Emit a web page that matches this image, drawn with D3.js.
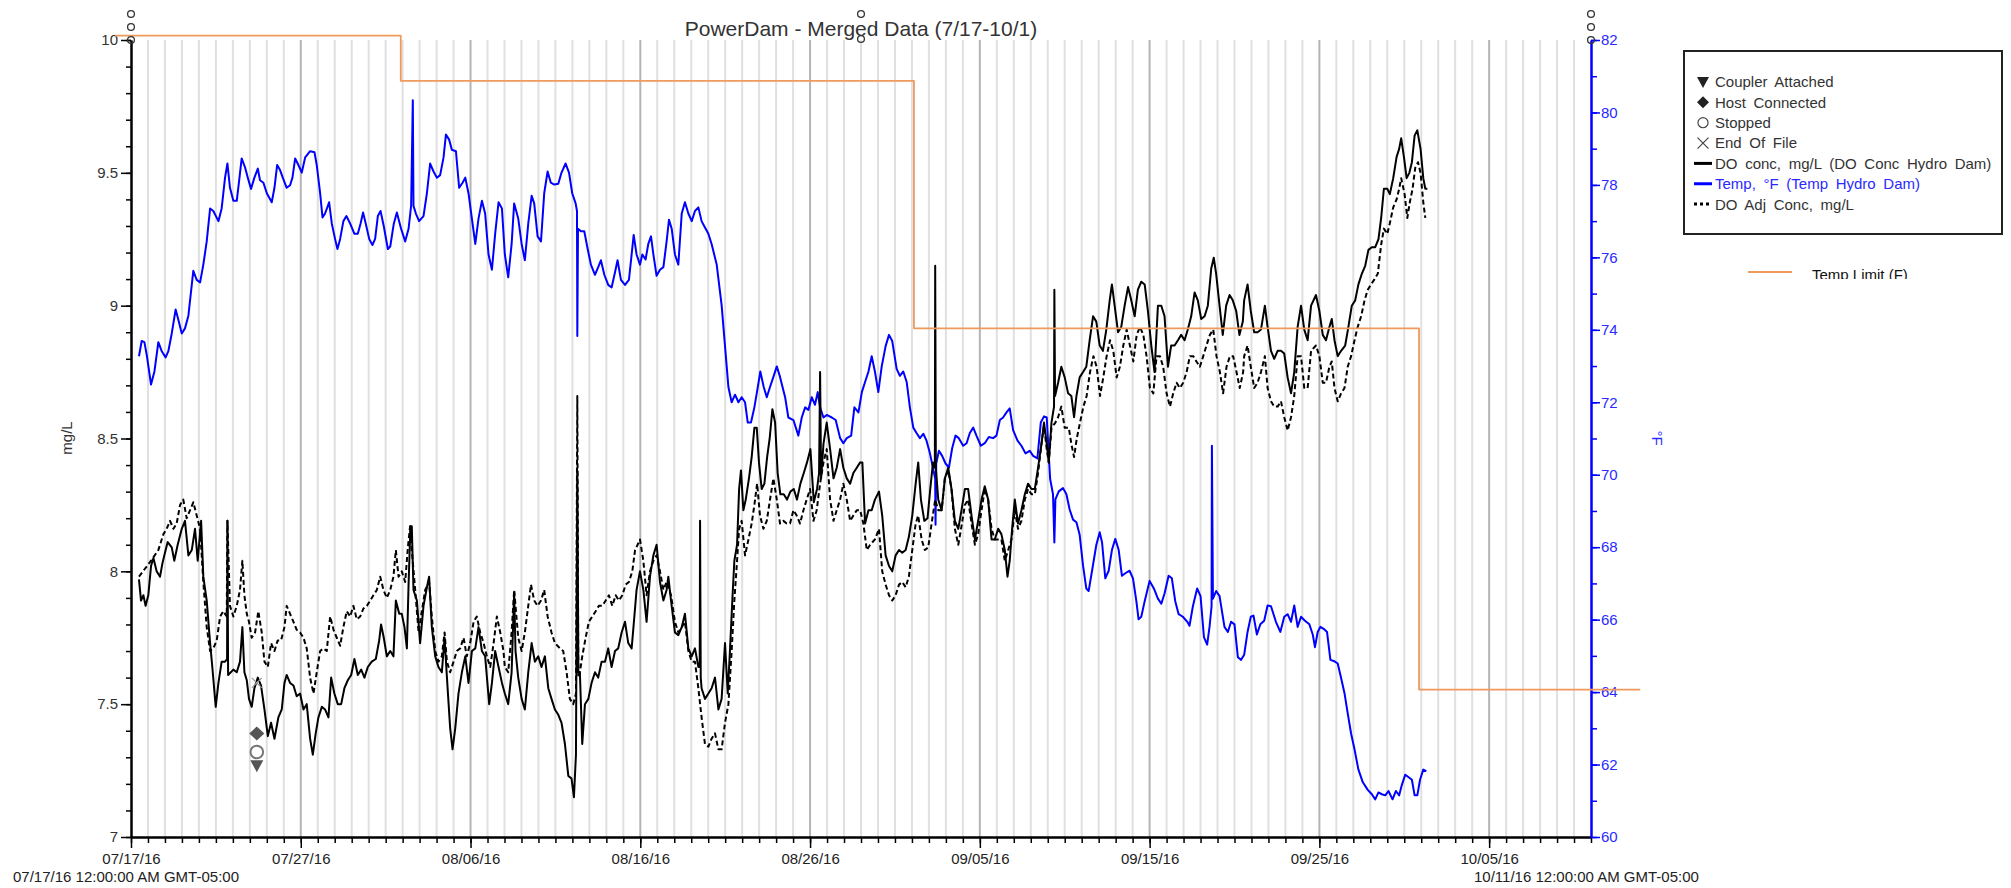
<!DOCTYPE html>
<html>
<head>
<meta charset="utf-8">
<title>PowerDam - Merged Data (7/17-10/1)</title>
<style>
body { margin: 0; background: #fff; }
svg text { font-family: "Liberation Sans", Arial, sans-serif; }
.line { fill: none; stroke-linejoin: round; }
</style>
</head>
<body>
<svg width="2011" height="888"></svg>
<script src="https://cdn.jsdelivr.net/npm/d3@7"></script>
<script>
// days are counted from 07/17/16 00:00
const startDate = new Date(2016, 6, 17);
const endDate = new Date(2016, 9, 11);

const majorDays = [0, 10, 20, 30, 40, 50, 60, 70, 80];
const doMajorTicks = [7, 7.5, 8, 8.5, 9, 9.5, 10];
const tempMajorTicks = [60, 62, 64, 66, 68, 70, 72, 74, 76, 78, 80, 82];

const legendLabels = ["Coupler Attached", "Host Connected", "Stopped", "End Of File",
  "DO conc, mg/L (DO Conc Hydro Dam)", "Temp, °F (Temp Hydro Dam)", "DO Adj Conc, mg/L"];

// Temp Limit (F), step line
const limitSeries = [[-0.94, 82.12], [15.89, 80.87], [46.12, 74.04], [75.87, 64.07], [88.9, 64.07]];

// logger events, [day, mg/L]
const eventMarks = [
  {label: "End Of File", day: 7.41, value: 7.58},
  {label: "Host Connected", day: 7.41, value: 7.39},
  {label: "Coupler Attached", day: 7.41, value: 7.27},
  {label: "Stopped", day: 7.41, value: 7.32}
];

const tempSeries = [
[0.47,73.27],[0.63,73.69],[0.79,73.66],[0.94,73.27],[1.18,72.49],[1.38,72.85],[1.61,73.66],[1.81,73.41],[2.04,73.24],[2.20,73.41],[2.40,73.90],[2.63,74.56],[2.79,74.28],[2.99,73.90],[3.18,74.04],[3.38,74.39],[3.67,75.63],[3.87,75.38],[4.07,75.31],[4.26,75.80],[4.46,76.44],[4.66,77.35],[4.85,77.28],[5.15,77.00],[5.34,77.35],[5.54,78.20],[5.68,78.59],[5.83,77.92],[6.03,77.56],[6.23,77.56],[6.39,78.20],[6.52,78.73],[6.72,78.48],[6.88,78.20],[7.07,77.89],[7.27,78.20],[7.47,78.45],[7.60,78.13],[7.80,78.06],[8.00,77.77],[8.29,77.52],[8.45,77.92],[8.61,78.55],[8.78,78.41],[8.94,78.20],[9.17,77.92],[9.37,77.99],[9.51,78.20],[9.67,78.73],[9.86,78.55],[10.06,78.34],[10.26,78.76],[10.55,78.93],[10.81,78.90],[10.94,78.55],[11.14,77.77],[11.28,77.10],[11.43,77.21],[11.67,77.52],[11.83,76.93],[12.02,76.51],[12.16,76.23],[12.32,76.51],[12.51,77.00],[12.69,77.14],[12.91,76.93],[13.16,76.65],[13.36,76.65],[13.52,76.93],[13.67,77.24],[13.83,76.93],[14.03,76.51],[14.22,76.34],[14.38,76.51],[14.54,77.14],[14.70,77.28],[14.89,76.86],[15.13,76.23],[15.27,76.30],[15.48,76.93],[15.66,77.24],[15.91,76.79],[16.15,76.44],[16.35,76.79],[16.50,77.42],[16.60,80.34],[16.64,77.42],[16.78,77.21],[16.97,77.00],[17.23,77.14],[17.43,77.77],[17.62,78.59],[17.82,78.37],[18.02,78.20],[18.21,78.27],[18.41,78.76],[18.55,79.39],[18.74,79.25],[18.90,78.97],[19.14,78.93],[19.33,77.92],[19.53,78.06],[19.69,78.20],[19.88,77.77],[20.08,77.07],[20.28,76.37],[20.47,77.07],[20.67,77.56],[20.86,77.21],[21.06,76.08],[21.26,75.66],[21.45,76.65],[21.65,77.52],[21.85,77.35],
[22.02,76.08],[22.22,75.45],[22.42,76.37],[22.57,77.49],[22.81,77.07],[23.01,76.37],[23.20,75.92],[23.40,76.93],[23.60,77.70],[23.75,77.49],[23.95,76.58],[24.15,76.44],[24.34,77.77],[24.54,78.37],[24.73,78.06],[24.93,78.01],[25.17,78.03],[25.36,78.34],[25.60,78.59],[25.80,78.34],[25.99,77.77],[26.19,77.49],[26.27,77.28],[26.29,73.83],[26.33,76.79],[26.50,76.72],[26.70,76.72],[26.90,76.23],[27.09,75.80],[27.33,75.52],[27.52,75.73],[27.68,75.92],[27.88,75.52],[28.11,75.24],[28.31,75.17],[28.51,75.59],[28.66,75.92],[28.86,75.38],[29.10,75.24],[29.33,75.38],[29.49,76.08],[29.61,76.62],[29.78,76.08],[29.98,75.80],[30.12,76.08],[30.31,75.94],[30.47,76.37],[30.63,76.58],[30.77,76.08],[30.96,75.49],[31.16,75.66],[31.36,75.73],[31.55,76.44],[31.69,77.04],[31.85,76.79],[32.04,76.08],[32.24,75.80],[32.44,77.21],[32.63,77.52],[32.83,77.21],[33.03,77.00],[33.22,77.28],[33.42,77.38],[33.61,77.00],[33.77,76.86],[34.01,76.65],[34.20,76.37],[34.50,75.80],[34.79,74.68],[34.99,73.55],[35.19,72.42],[35.38,72.00],[35.58,72.21],[35.78,72.00],[35.97,72.14],[36.17,72.00],[36.33,71.44],[36.52,71.44],[36.72,71.86],[36.92,72.42],[37.07,72.85],[37.27,72.42],[37.45,72.14],[37.64,72.42],[37.84,72.70],[38.04,72.99],[38.23,72.70],[38.53,72.14],[38.72,71.58],[39.02,71.51],[39.31,71.08],[39.51,71.58],[39.71,71.86],[39.90,71.79],[40.10,72.14],[40.29,71.93],[40.45,72.28],[40.59,71.86],[40.79,71.58],[40.98,71.65],[41.28,71.58],[41.51,71.51],[41.77,71.01],[41.96,70.87],[42.16,71.01],[42.42,71.08],[42.61,71.86],[42.85,71.72],[43.05,72.28],[43.24,72.56],[43.44,72.85],[43.63,73.27],
[43.82,72.85],[44.02,72.28],[44.22,72.99],[44.45,73.55],[44.65,73.86],[44.84,73.69],[45.10,72.92],[45.29,72.73],[45.49,72.85],[45.69,72.56],[45.88,71.86],[46.08,71.30],[46.27,71.15],[46.47,71.01],[46.67,71.13],[46.86,70.94],[47.06,70.59],[47.25,70.17],[47.37,69.89],[47.39,68.62],[47.43,70.31],[47.59,70.66],[47.78,70.52],[47.98,70.31],[48.18,70.20],[48.37,70.73],[48.57,71.08],[48.76,71.01],[49.02,70.80],[49.22,70.87],[49.41,71.15],[49.61,71.30],[49.80,71.08],[50.06,70.80],[50.29,70.87],[50.53,71.04],[50.78,71.01],[50.98,71.08],[51.18,71.51],[51.37,71.58],[51.57,71.72],[51.76,71.83],[51.96,71.23],[52.22,70.94],[52.45,70.80],[52.69,70.59],[52.94,70.66],[53.14,70.52],[53.39,70.45],[53.59,71.44],[53.78,71.61],[53.94,71.58],[54.14,69.89],[54.31,69.46],[54.39,68.13],[54.45,69.32],[54.65,69.54],[54.90,69.63],[55.10,69.46],[55.29,69.04],[55.49,68.76],[55.69,68.69],[55.88,68.34],[56.08,67.49],[56.27,66.86],[56.41,66.79],[56.61,67.35],[56.86,68.06],[57.06,68.41],[57.20,68.13],[57.39,67.14],[57.59,67.35],[57.78,67.92],[57.98,68.23],[58.18,67.92],[58.37,67.21],[58.57,67.28],[58.82,67.35],[59.02,67.14],[59.22,66.51],[59.35,66.01],[59.51,66.08],[59.71,66.51],[60.00,67.07],[60.25,66.86],[60.49,66.58],[60.69,66.44],[60.88,66.72],[61.12,67.21],[61.31,67.14],[61.51,66.51],[61.71,66.15],[61.96,66.08],[62.22,65.94],[62.35,65.83],[62.55,66.37],[62.80,66.86],[63.00,66.65],[63.20,65.52],[63.39,65.31],[63.53,65.80],[63.65,66.37],[63.67,70.80],[63.73,66.58],[63.92,66.79],[64.12,66.65],[64.41,65.80],[64.61,65.66],[64.80,65.94],[65.00,65.87],[65.20,64.96],[65.39,64.89],
[65.57,65.03],[65.77,65.66],[65.96,66.08],[66.12,66.11],[66.32,65.59],[66.52,65.87],[66.75,65.97],[66.95,66.39],[67.15,66.37],[67.44,65.94],[67.70,65.66],[67.93,66.08],[68.13,66.15],[68.33,65.94],[68.52,66.39],[68.72,65.80],[68.92,66.08],[69.15,65.97],[69.41,65.87],[69.61,65.59],[69.74,65.24],[69.90,65.66],[70.06,65.80],[70.30,65.73],[70.45,65.66],[70.65,64.89],[70.89,64.85],[71.08,64.79],[71.28,64.39],[71.48,63.97],[71.67,63.41],[71.87,62.85],[72.07,62.42],[72.30,61.86],[72.56,61.51],[72.85,61.30],[73.09,61.18],[73.29,61.04],[73.48,61.23],[73.68,61.18],[73.88,61.15],[74.07,61.27],[74.31,61.04],[74.51,61.27],[74.70,61.15],[74.86,61.44],[75.06,61.72],[75.26,61.65],[75.45,61.58],[75.61,61.15],[75.77,61.15],[75.93,61.58],[76.12,61.86],[76.30,61.82]
];

const doConcSeries = [
[0.47,7.97],[0.59,7.89],[0.73,7.91],[0.86,7.87],[1.02,7.91],[1.18,8.02],[1.32,8.05],[1.51,8.00],[1.71,7.98],[1.85,8.03],[2.00,8.07],[2.16,8.11],[2.40,8.09],[2.55,8.04],[2.75,8.10],[2.99,8.16],[3.18,8.19],[3.38,8.06],[3.58,8.08],[3.77,8.16],[3.93,8.04],[4.13,8.19],[4.26,7.98],[4.46,7.89],[4.66,7.73],[4.79,7.64],[4.99,7.49],[5.15,7.58],[5.34,7.66],[5.54,7.66],[5.66,7.67],[5.68,8.19],[5.72,7.61],[6.03,7.63],[6.23,7.62],[6.42,7.66],[6.56,7.79],[6.68,7.62],[6.82,7.59],[6.95,7.52],[7.11,7.49],[7.27,7.56],[7.47,7.60],[7.66,7.57],[7.86,7.48],[8.06,7.38],[8.25,7.43],[8.45,7.37],[8.68,7.45],[8.88,7.48],[9.04,7.58],[9.17,7.61],[9.37,7.58],[9.57,7.57],[9.76,7.53],[9.96,7.54],[10.16,7.48],[10.35,7.50],[10.55,7.37],[10.71,7.31],[10.88,7.39],[11.04,7.45],[11.24,7.49],[11.43,7.48],[11.63,7.45],[11.79,7.60],[11.98,7.54],[12.18,7.50],[12.38,7.50],[12.57,7.56],[12.77,7.59],[12.97,7.61],[13.16,7.67],[13.36,7.61],[13.56,7.63],[13.75,7.60],[13.95,7.64],[14.18,7.66],[14.42,7.67],[14.62,7.74],[14.73,7.80],[14.89,7.75],[15.07,7.68],[15.27,7.70],[15.46,7.68],[15.60,7.89],[15.80,7.84],[15.95,7.84],[16.11,7.79],[16.25,7.71],[16.35,7.95],[16.46,8.17],[16.54,8.17],[16.64,7.93],[16.84,7.89],[17.03,7.73],[17.23,7.87],[17.43,7.94],[17.56,7.98],[17.72,7.79],[17.92,7.68],[18.11,7.64],[18.31,7.62],[18.47,7.75],[18.61,7.60],[18.80,7.41],[18.94,7.33],[19.10,7.41],[19.29,7.54],[19.49,7.62],[19.69,7.68],[19.88,7.58],[20.08,7.70],[20.28,7.71],[20.47,7.79],[20.67,7.70],[20.86,7.68],[21.10,7.50],[21.26,7.58],[21.45,7.70],[21.65,7.64],[21.85,7.58],
[22.02,7.54],[22.22,7.50],[22.42,7.62],[22.57,7.92],[22.65,7.70],[22.81,7.60],[23.01,7.52],[23.20,7.48],[23.40,7.62],[23.60,7.73],[23.79,7.66],[23.99,7.68],[24.18,7.64],[24.38,7.68],[24.58,7.56],[24.77,7.52],[24.97,7.48],[25.17,7.46],[25.36,7.43],[25.56,7.35],[25.76,7.23],[25.95,7.22],[26.09,7.15],[26.21,7.31],[26.29,8.38],[26.35,7.62],[26.44,7.62],[26.58,7.35],[26.74,7.50],[26.94,7.52],[27.13,7.58],[27.33,7.62],[27.52,7.60],[27.72,7.66],[27.92,7.66],[28.11,7.71],[28.31,7.64],[28.51,7.70],[28.70,7.71],[28.90,7.77],[29.10,7.81],[29.29,7.73],[29.49,7.71],[29.65,7.83],[29.78,7.93],[29.98,8.00],[30.18,7.93],[30.37,7.81],[30.57,7.98],[30.77,8.06],[30.96,8.10],[31.16,7.96],[31.36,7.89],[31.55,7.93],[31.65,7.98],[31.81,7.89],[32.04,7.77],[32.24,7.76],[32.44,7.79],[32.63,7.84],[32.83,7.71],[33.03,7.68],[33.22,7.71],[33.42,7.64],[33.50,7.64],[33.52,8.19],[33.56,7.60],[33.61,7.56],[33.81,7.52],[34.01,7.54],[34.20,7.56],[34.40,7.60],[34.60,7.48],[34.79,7.52],[34.99,7.73],[35.15,7.54],[35.28,7.70],[35.42,7.89],[35.54,8.04],[35.70,8.10],[35.82,8.31],[35.93,8.38],[36.07,8.23],[36.21,8.27],[36.40,8.35],[36.56,8.43],[36.72,8.54],[36.86,8.54],[36.99,8.41],[37.15,8.31],[37.31,8.33],[37.47,8.43],[37.62,8.50],[37.78,8.61],[37.94,8.56],[38.09,8.37],[38.25,8.29],[38.45,8.29],[38.64,8.27],[38.84,8.30],[39.04,8.31],[39.23,8.27],[39.43,8.33],[39.63,8.37],[39.82,8.41],[40.02,8.46],[40.22,8.26],[40.41,8.31],[40.53,8.37],[40.59,8.75],[40.65,8.35],[40.79,8.48],[40.98,8.56],[41.18,8.46],[41.38,8.35],[41.57,8.39],[41.77,8.46],[41.96,8.39],[42.16,8.35],[42.36,8.33],[42.55,8.37],[42.75,8.39],[42.95,8.41],[43.08,8.41],[43.24,8.18],[43.44,8.23],[43.63,8.23],
[43.82,8.27],[44.06,8.30],[44.25,8.21],[44.45,8.06],[44.65,8.02],[44.84,8.00],[45.04,8.06],[45.24,8.08],[45.43,8.07],[45.63,8.08],[45.82,8.13],[46.02,8.21],[46.22,8.33],[46.37,8.41],[46.53,8.27],[46.73,8.19],[46.92,8.20],[47.08,8.31],[47.24,8.41],[47.35,8.39],[47.37,9.15],[47.41,8.39],[47.55,8.27],[47.75,8.23],[47.94,8.35],[48.14,8.39],[48.33,8.31],[48.53,8.19],[48.73,8.16],[48.92,8.23],[49.12,8.31],[49.31,8.31],[49.51,8.21],[49.71,8.12],[49.90,8.19],[50.10,8.27],[50.29,8.32],[50.49,8.27],[50.69,8.12],[50.88,8.12],[51.08,8.16],[51.27,8.14],[51.47,8.08],[51.63,7.98],[51.76,8.04],[51.90,8.16],[52.06,8.27],[52.25,8.18],[52.45,8.23],[52.65,8.29],[52.84,8.33],[53.04,8.31],[53.24,8.31],[53.43,8.39],[53.63,8.48],[53.78,8.56],[53.94,8.48],[54.06,8.41],[54.22,8.56],[54.37,8.62],[54.39,9.06],[54.43,8.66],[54.61,8.71],[54.80,8.77],[55.00,8.73],[55.20,8.67],[55.39,8.66],[55.55,8.58],[55.69,8.66],[55.88,8.73],[56.08,8.75],[56.27,8.77],[56.47,8.87],[56.67,8.96],[56.86,8.94],[57.06,8.85],[57.25,8.83],[57.45,8.91],[57.65,9.02],[57.78,9.08],[57.94,9.00],[58.14,8.90],[58.33,8.92],[58.53,9.00],[58.73,9.07],[58.92,9.02],[59.12,8.96],[59.31,9.06],[59.51,9.09],[59.71,9.08],[59.90,8.98],[60.10,8.85],[60.29,8.75],[60.49,9.00],[60.69,9.00],[60.88,8.96],[61.08,8.77],[61.27,8.85],[61.47,8.85],[61.67,8.87],[61.86,8.89],[62.06,8.87],[62.25,8.91],[62.45,8.96],[62.65,9.05],[62.84,9.02],[63.04,8.95],[63.24,8.96],[63.43,9.00],[63.63,9.14],[63.78,9.18],[63.92,9.12],[64.12,9.00],[64.31,8.89],[64.51,9.00],[64.71,9.04],[64.90,9.02],[65.10,8.98],[65.29,8.89],[65.49,8.94],
[65.57,9.02],[65.77,9.08],[65.96,8.98],[66.16,8.90],[66.36,8.90],[66.56,8.91],[66.79,9.00],[66.95,8.92],[67.15,8.83],[67.34,8.80],[67.54,8.83],[67.74,8.83],[67.93,8.82],[68.13,8.73],[68.33,8.67],[68.52,8.75],[68.72,8.92],[68.92,9.00],[69.11,8.91],[69.31,8.87],[69.51,9.00],[69.80,9.04],[70.00,8.98],[70.20,8.89],[70.39,8.87],[70.59,8.92],[70.73,8.95],[70.89,8.87],[71.08,8.81],[71.28,8.83],[71.52,8.85],[71.71,8.92],[71.91,9.00],[72.11,9.02],[72.30,9.08],[72.50,9.12],[72.70,9.15],[72.89,9.21],[73.09,9.22],[73.29,9.22],[73.48,9.25],[73.64,9.33],[73.80,9.44],[74.00,9.44],[74.15,9.42],[74.35,9.48],[74.55,9.56],[74.70,9.59],[74.82,9.63],[74.98,9.56],[75.14,9.48],[75.30,9.50],[75.45,9.54],[75.61,9.64],[75.77,9.66],[75.96,9.59],[76.12,9.48],[76.24,9.44],[76.36,9.44]
];

const doAdjSeries = [
[0.47,7.98],[1.18,8.04],[1.61,8.08],[1.91,8.14],[2.10,8.16],[2.30,8.19],[2.50,8.16],[2.69,8.18],[2.89,8.25],[3.08,8.27],[3.28,8.20],[3.48,8.23],[3.67,8.26],[3.87,8.21],[4.07,8.16],[4.26,7.96],[4.46,7.79],[4.66,7.70],[4.85,7.71],[5.05,7.74],[5.25,7.83],[5.44,7.85],[5.64,7.83],[5.68,8.19],[5.83,7.87],[6.03,7.83],[6.23,7.87],[6.42,7.93],[6.56,8.04],[6.68,7.91],[6.82,7.84],[6.95,7.81],[7.11,7.75],[7.31,7.77],[7.50,7.85],[7.70,7.77],[7.86,7.66],[8.06,7.64],[8.25,7.73],[8.45,7.70],[8.64,7.74],[8.84,7.74],[9.04,7.79],[9.17,7.87],[9.37,7.84],[9.57,7.81],[9.76,7.78],[9.96,7.77],[10.16,7.75],[10.35,7.71],[10.55,7.60],[10.75,7.54],[10.94,7.62],[11.14,7.70],[11.34,7.71],[11.53,7.70],[11.73,7.83],[11.93,7.78],[12.12,7.75],[12.32,7.72],[12.51,7.79],[12.71,7.85],[12.91,7.83],[13.10,7.87],[13.30,7.82],[13.50,7.83],[13.69,7.86],[13.89,7.87],[14.09,7.89],[14.28,7.91],[14.48,7.93],[14.68,7.98],[14.87,7.93],[15.07,7.90],[15.27,7.93],[15.46,7.98],[15.60,8.08],[15.76,7.98],[15.95,8.00],[16.15,7.96],[16.31,8.09],[16.44,8.17],[16.54,8.08],[16.74,7.93],[16.94,7.77],[17.13,7.85],[17.33,7.93],[17.56,7.96],[17.72,7.83],[17.92,7.70],[18.11,7.66],[18.31,7.68],[18.47,7.77],[18.61,7.66],[18.80,7.62],[19.00,7.66],[19.19,7.70],[19.39,7.71],[19.59,7.75],[19.78,7.68],[19.98,7.73],[20.18,7.81],[20.37,7.83],[20.57,7.77],[20.77,7.73],[20.96,7.68],[21.16,7.64],[21.36,7.73],[21.55,7.83],[21.75,7.77],[21.94,7.70],
[22.02,7.64],[22.22,7.62],[22.42,7.77],[22.57,7.93],[22.81,7.75],[23.01,7.70],[23.20,7.77],[23.40,7.87],[23.56,7.95],[23.75,7.89],[23.95,7.87],[24.15,7.89],[24.34,7.93],[24.54,7.83],[24.77,7.77],[24.97,7.73],[25.27,7.71],[25.46,7.70],[25.66,7.62],[25.85,7.52],[26.05,7.50],[26.21,7.54],[26.29,8.66],[26.35,7.60],[26.44,7.62],[26.58,7.68],[26.78,7.75],[26.97,7.81],[27.17,7.83],[27.37,7.85],[27.56,7.87],[27.76,7.87],[27.96,7.89],[28.15,7.91],[28.35,7.87],[28.55,7.91],[28.74,7.89],[28.94,7.91],[29.14,7.95],[29.33,7.96],[29.53,8.00],[29.69,8.08],[29.84,8.10],[29.98,8.12],[30.18,8.04],[30.37,7.91],[30.57,8.00],[30.77,8.04],[30.96,8.06],[31.16,8.00],[31.36,7.93],[31.55,7.96],[31.81,7.91],[32.04,7.81],[32.24,7.77],[32.44,7.79],[32.63,7.81],[32.83,7.70],[33.03,7.66],[33.22,7.66],[33.42,7.56],[33.61,7.45],[33.81,7.35],[34.01,7.34],[34.20,7.37],[34.40,7.39],[34.60,7.33],[34.79,7.33],[34.99,7.43],[35.19,7.50],[35.38,7.70],[35.54,7.89],[35.70,8.04],[35.82,8.16],[35.97,8.19],[36.17,8.06],[36.37,8.12],[36.56,8.18],[36.72,8.25],[36.88,8.33],[37.05,8.21],[37.25,8.16],[37.45,8.19],[37.64,8.27],[37.84,8.35],[38.04,8.27],[38.23,8.18],[38.43,8.19],[38.62,8.18],[38.82,8.18],[39.02,8.23],[39.21,8.21],[39.41,8.18],[39.61,8.23],[39.80,8.27],[40.00,8.31],[40.20,8.19],[40.39,8.23],[40.59,8.33],[40.79,8.41],[40.98,8.46],[41.18,8.27],[41.38,8.19],[41.57,8.23],[41.77,8.27],[41.96,8.33],[42.16,8.27],[42.36,8.19],[42.55,8.21],[42.75,8.23],[42.95,8.23],[43.14,8.18],[43.34,8.08],[43.54,8.10],
[43.82,8.12],[44.06,8.16],[44.25,8.00],[44.45,7.95],[44.65,7.91],[44.84,7.89],[45.04,7.91],[45.24,7.95],[45.43,7.96],[45.63,7.94],[45.82,7.98],[46.02,8.08],[46.22,8.18],[46.37,8.21],[46.57,8.12],[46.76,8.08],[46.96,8.09],[47.16,8.18],[47.37,8.27],[47.55,8.23],[47.75,8.23],[47.94,8.35],[48.14,8.38],[48.33,8.31],[48.53,8.16],[48.73,8.10],[48.92,8.17],[49.12,8.25],[49.31,8.27],[49.51,8.18],[49.71,8.10],[49.90,8.14],[50.10,8.23],[50.29,8.31],[50.49,8.27],[50.69,8.16],[50.88,8.12],[51.08,8.12],[51.27,8.12],[51.47,8.04],[51.67,8.08],[51.86,8.12],[52.06,8.23],[52.25,8.16],[52.45,8.19],[52.65,8.27],[52.84,8.31],[53.04,8.29],[53.24,8.29],[53.43,8.37],[53.63,8.48],[53.78,8.55],[53.94,8.46],[54.06,8.41],[54.22,8.54],[54.45,8.56],[54.61,8.58],[54.80,8.62],[55.00,8.54],[55.24,8.54],[55.39,8.48],[55.55,8.43],[55.71,8.50],[55.90,8.56],[56.10,8.62],[56.29,8.66],[56.49,8.75],[56.69,8.81],[56.88,8.77],[57.08,8.66],[57.27,8.73],[57.47,8.81],[57.67,8.87],[57.86,8.83],[58.06,8.73],[58.25,8.77],[58.45,8.85],[58.65,8.91],[58.84,8.85],[59.04,8.79],[59.24,8.89],[59.43,8.92],[59.63,8.89],[59.82,8.81],[60.02,8.69],[60.22,8.67],[60.41,8.81],[60.61,8.81],[60.80,8.77],[61.00,8.67],[61.20,8.62],[61.39,8.67],[61.59,8.71],[61.78,8.69],[61.98,8.71],[62.18,8.75],[62.37,8.81],[62.57,8.81],[62.76,8.79],[62.96,8.77],[63.16,8.81],[63.35,8.85],[63.55,8.89],[63.75,8.91],[63.94,8.81],[64.14,8.75],[64.33,8.67],[64.53,8.77],[64.73,8.81],[64.92,8.81],[65.12,8.75],[65.31,8.69],[65.51,8.75],
[65.57,8.81],[65.77,8.85],[65.96,8.77],[66.16,8.69],[66.36,8.71],[66.56,8.75],[66.79,8.81],[66.95,8.69],[67.15,8.64],[67.34,8.62],[67.54,8.62],[67.74,8.64],[67.93,8.58],[68.13,8.53],[68.33,8.58],[68.52,8.66],[68.72,8.81],[68.92,8.81],[69.11,8.69],[69.31,8.69],[69.51,8.83],[69.80,8.85],[70.00,8.81],[70.20,8.71],[70.39,8.71],[70.59,8.77],[70.73,8.79],[70.89,8.69],[71.08,8.64],[71.28,8.67],[71.48,8.69],[71.67,8.77],[71.87,8.81],[72.07,8.87],[72.26,8.92],[72.46,8.96],[72.66,9.02],[72.85,9.06],[73.05,9.08],[73.25,9.10],[73.44,9.12],[73.64,9.23],[73.80,9.29],[74.00,9.27],[74.15,9.31],[74.35,9.37],[74.55,9.40],[74.70,9.44],[74.82,9.48],[75.02,9.42],[75.18,9.33],[75.33,9.39],[75.49,9.44],[75.65,9.52],[75.81,9.54],[75.96,9.50],[76.12,9.39],[76.24,9.33]
];

const svg = d3.select("svg");
const plot = {left: 131, right: 1591, top: 40, bottom: 837};
const dayDate = d => new Date(startDate.getTime() + d * 864e5);
const totalDays = Math.round((endDate - startDate) / 864e5);

const x = d3.scaleTime().domain([startDate, endDate]).range([plot.left, plot.right]);
const yDO = d3.scaleLinear().domain([7, 10]).range([plot.bottom, plot.top]);
const yT = d3.scaleLinear().domain([60, 82]).range([plot.bottom, plot.top]);

// daily grid lines
svg.append("g")
  .selectAll("line")
  .data(d3.range(1, totalDays))
  .join("line")
    .attr("x1", d => x(dayDate(d)))
    .attr("x2", d => x(dayDate(d)))
    .attr("y1", plot.top)
    .attr("y2", plot.bottom)
    .attr("stroke", d => d % 10 === 0 ? "#b4b4b4" : "#e0e0e0")
    .attr("stroke-width", 2);

const sorted = s => s.slice().sort((a, b) => a[0] - b[0]);

const lineT = d3.line().x(d => x(dayDate(d[0]))).y(d => yT(d[1]));
const lineDO = d3.line().x(d => x(dayDate(d[0]))).y(d => yDO(d[1]));

svg.append("path")
  .datum(sorted(tempSeries))
  .attr("class", "line")
  .attr("stroke", "#0000ff")
  .attr("stroke-width", 2)
  .attr("d", lineT);

svg.append("path")
  .datum(sorted(doAdjSeries))
  .attr("class", "line")
  .attr("stroke", "#000")
  .attr("stroke-width", 2)
  .attr("stroke-dasharray", "5,3")
  .attr("d", lineDO);

svg.append("path")
  .datum(sorted(doConcSeries))
  .attr("class", "line")
  .attr("stroke", "#000")
  .attr("stroke-width", 2)
  .attr("d", lineDO);

// event symbols
const shapes = {
  "Coupler Attached": "M-6.5,-5L6.5,-5L0,7Z",
  "Host Connected": "M0,-7L7.5,0L0,7L-7.5,0Z",
  "Stopped": d3.symbol(d3.symbolCircle, 125)(),
  "End Of File": "M-5,-5L5,5M5,-5L-5,5"
};
svg.append("g")
  .selectAll("path")
  .data(eventMarks)
  .join("path")
    .attr("transform", d => `translate(${x(dayDate(d.day))},${yDO(d.value)})`)
    .attr("d", d => shapes[d.label])
    .attr("fill", d => d.label === "Stopped" ? "#fff" : d.label === "End Of File" ? "none" : "#555")
    .attr("stroke", d => d.label === "Stopped" ? "#777" : d.label === "End Of File" ? "#999" : "none")
    .attr("stroke-width", d => d.label === "Stopped" ? 2 : 1.2);

// axes
function styleAxis(g, color) {
  g.select(".domain").attr("stroke", color).attr("stroke-width", 2);
  g.selectAll(".tick line").attr("stroke", color).attr("stroke-width", 1.5);
  g.selectAll(".tick text")
    .attr("font-size", 15).attr("font-family", "Liberation Sans, Arial, sans-serif");
}

svg.append("g")
  .attr("transform", `translate(0,${plot.bottom})`)
  .call(d3.axisBottom(x).tickValues(d3.range(0, totalDays + 1).map(dayDate)).tickSize(6).tickSizeOuter(0).tickFormat(""))
  .call(g => styleAxis(g, "#000"));
svg.append("g")
  .attr("transform", `translate(0,${plot.bottom})`)
  .call(d3.axisBottom(x).tickValues(majorDays.map(dayDate)).tickSize(11).tickSizeOuter(0).tickPadding(5)
    .tickFormat(d3.timeFormat("%m/%d/%y")))
  .call(g => { styleAxis(g, "#000"); g.selectAll(".tick text").attr("fill", "#222"); });

svg.append("g")
  .attr("transform", `translate(${plot.left},0)`)
  .call(d3.axisLeft(yDO).tickValues(d3.range(70, 101).map(v => v / 10)).tickSize(5).tickSizeOuter(0).tickFormat(""))
  .call(g => styleAxis(g, "#000"));
svg.append("g")
  .attr("transform", `translate(${plot.left},0)`)
  .call(d3.axisLeft(yDO).tickValues(doMajorTicks).tickSize(10).tickSizeOuter(0).tickPadding(3).tickFormat(d3.format("~g")))
  .call(g => { styleAxis(g, "#000"); g.selectAll(".tick text").attr("fill", "#333"); });

svg.append("g")
  .attr("transform", `translate(${plot.right},0)`)
  .call(d3.axisRight(yT).tickValues(d3.range(60, 83)).tickSize(6).tickSizeOuter(0).tickFormat(""))
  .call(g => styleAxis(g, "#0000ff"));
svg.append("g")
  .attr("transform", `translate(${plot.right},0)`)
  .call(d3.axisRight(yT).tickValues(tempMajorTicks).tickSize(9).tickSizeOuter(0).tickPadding(1))
  .call(g => { styleAxis(g, "#0000ff"); g.selectAll(".tick text").attr("fill", "#2a2aff"); });

// temperature limit, drawn over everything like the pasted overlay
svg.append("path")
  .datum(limitSeries)
  .attr("class", "line")
  .attr("stroke", "#ef9a5c")
  .attr("stroke-width", 1.8)
  .attr("d", d3.line().curve(d3.curveStepAfter).x(d => x(dayDate(d[0]))).y(d => yT(d[1])));

// titles
svg.append("text")
  .attr("x", 861).attr("y", 36)
  .attr("text-anchor", "middle")
  .attr("font-size", 21)
  .attr("fill", "#333")
  .text("PowerDam - Merged Data (7/17-10/1)");

svg.append("text")
  .attr("transform", "translate(67,438) rotate(-90)")
  .attr("text-anchor", "middle")
  .attr("dy", "0.35em")
  .attr("font-size", 15)
  .attr("fill", "#333")
  .text("mg/L");

svg.append("text")
  .attr("transform", "translate(1657,438) rotate(90)")
  .attr("text-anchor", "middle")
  .attr("dy", "0.35em")
  .attr("font-size", 15)
  .attr("fill", "#2a2aff")
  .text("°F");

const stampFormat = d3.timeFormat("%m/%d/%y %I:%M:%S %p");
svg.append("text").attr("x", 13).attr("y", 882).attr("font-size", 15).attr("fill", "#222")
  .text(stampFormat(startDate) + " GMT-05:00");
svg.append("text").attr("x", 1474).attr("y", 882).attr("font-size", 15).attr("fill", "#222")
  .text(stampFormat(endDate) + " GMT-05:00");

// selection handles left by the chart tool
const handles = [[plot.left, 14], [plot.left, 27], [plot.left, 40],
  [plot.right, 14], [plot.right, 27], [plot.right, 40], [861, 14], [861, 39]];
svg.append("g")
  .selectAll("circle")
  .data(handles)
  .join("circle")
    .attr("cx", d => d[0]).attr("cy", d => d[1]).attr("r", 3.4)
    .attr("fill", "none").attr("stroke", "#333").attr("stroke-width", 1.3);

// legend
const legend = svg.append("g");
legend.append("rect")
  .attr("x", 1684).attr("y", 51).attr("width", 318).attr("height", 183)
  .attr("fill", "#fff").attr("stroke", "#222").attr("stroke-width", 2);

const legendShapes = {
  "Coupler Attached": "M-6,-5L6,-5L0,6Z",
  "Host Connected": "M0,-6L6,0L0,6L-6,0Z",
  "Stopped": d3.symbol(d3.symbolCircle, 80)(),
  "End Of File": "M-5.5,-5.5L5.5,5.5M5.5,-5.5L-5.5,5.5"
};
const ly = i => 82 + i * 20.35;
legendLabels.forEach((label, i) => {
  const y = ly(i);
  if (legendShapes[label]) {
    legend.append("path")
      .attr("transform", `translate(1703,${y})`)
      .attr("d", legendShapes[label])
      .attr("fill", label === "Stopped" || label === "End Of File" ? "none" : "#222")
      .attr("stroke", label === "Stopped" || label === "End Of File" ? "#444" : "none")
      .attr("stroke-width", 1.2);
  } else {
    legend.append("line")
      .attr("x1", 1694).attr("x2", 1712).attr("y1", y).attr("y2", y)
      .attr("stroke", i === 5 ? "#0000ff" : "#000")
      .attr("stroke-width", 3)
      .attr("stroke-dasharray", i === 6 ? "3,3" : null);
  }
  legend.append("text")
    .attr("x", 1715).attr("y", y).attr("dy", "0.36em")
    .attr("font-size", 15)
    .attr("word-spacing", 3.5)
    .attr("fill", i === 5 ? "#2a2aff" : "#333")
    .text(label);
});

// pasted "Temp Limit (F)" legend, clipped at its bottom
svg.append("defs").append("clipPath").attr("id", "limitClip")
  .append("rect").attr("x", 1740).attr("y", 255).attr("width", 220).attr("height", 24);
const limitKey = svg.append("g").attr("clip-path", "url(#limitClip)");
limitKey.append("line")
  .attr("x1", 1748).attr("x2", 1792).attr("y1", 272).attr("y2", 272)
  .attr("stroke", "#ef9a5c").attr("stroke-width", 2);
limitKey.append("text")
  .attr("x", 1812).attr("y", 280)
  .attr("font-family", "Lato, 'Open Sans', sans-serif")
  .attr("font-size", 15)
  .attr("fill", "#111")
  .text("Temp Limit (F)");
</script>
</body>
</html>
